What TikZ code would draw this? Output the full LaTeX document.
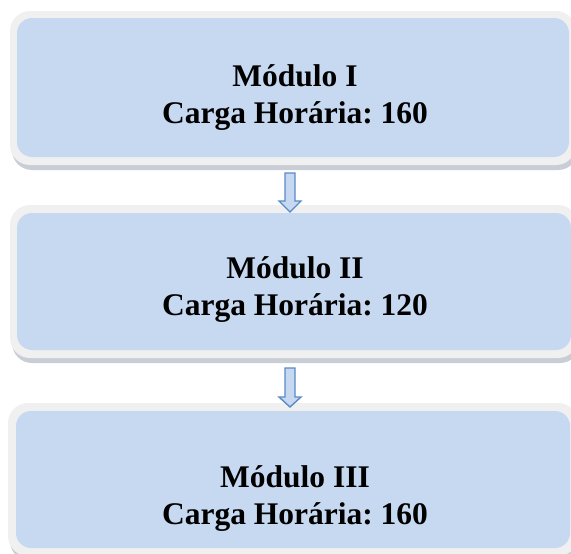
\documentclass[tikz,border=0pt]{standalone}
\usepackage{fontspec}
\setmainfont{Liberation Serif}
\usetikzlibrary{calc}
\definecolor{boxblue}{HTML}{C6D9F1}
\definecolor{rimgray}{HTML}{F0F0F0}
\definecolor{shadowgray}{HTML}{C9CED6}
\definecolor{arrowline}{HTML}{5A8AC8}
\tikzset{
  rim/.style={fill=rimgray, draw=none, rounded corners=20pt},
  shade/.style={fill=shadowgray, draw=none, rounded corners=20pt},
  inner/.style={fill=boxblue, draw=none, rounded corners=15pt},
  label/.style={font=\frenchspacing\bfseries\fontsize{31.5}{37}\selectfont, inner sep=0pt, anchor=base},
  blockarrow/.style={fill=boxblue, draw=arrowline, line width=1.4pt, line join=miter}
}
\begin{document}
\frenchspacing
\begin{tikzpicture}[x=1pt,y=-1pt]
\useasboundingbox (0,0) rectangle (571,554);
\clip (0,0) rectangle (571,554);
% box 1
\fill[shade] (12,16) rectangle (578,170);
\fill[rim] (10,11) rectangle (576,165);
\node[inner, minimum width=552pt, minimum height=139pt, inner sep=0pt] (b1) at (293,87.5) {};
\node[label] (m1) at (295,86) {Módulo I};
\node[label] (c1) at (295,123) {Carga Horária: 160};
% box 2
\fill[shade] (12,210) rectangle (580,363);
\fill[rim] (10,205) rectangle (578,358);
\node[inner, minimum width=554pt, minimum height=137pt, inner sep=0pt] (b2) at (294,281.5) {};
\node[label] (m2) at (295,278) {Módulo II};
\node[label] (c2) at (295,315) {Carga Horária: 120};
% box 3
\fill[shade] (10,408) rectangle (580,561);
\fill[rim] (8,403) rectangle (578,556);
\node[inner, minimum width=554pt, minimum height=137pt, inner sep=0pt] (b3) at (293,479.5) {};
\node[label] (m3) at (295,487) {Módulo III};
\node[label] (c3) at (295,524) {Carga Horária: 160};
% arrows
\coordinate (a1) at (290,173);
\draw[blockarrow] ($(a1)+(-5,0)$) -- ($(a1)+(5,0)$) -- ($(a1)+(5,28)$) -- ($(a1)+(11,28)$) -- ($(a1)+(0,39)$) -- ($(a1)+(-11,28)$) -- ($(a1)+(-5,28)$) -- cycle;
\coordinate (a2) at (290,368);
\draw[blockarrow] ($(a2)+(-5,0)$) -- ($(a2)+(5,0)$) -- ($(a2)+(5,29)$) -- ($(a2)+(11,29)$) -- ($(a2)+(0,39)$) -- ($(a2)+(-11,29)$) -- ($(a2)+(-5,29)$) -- cycle;
\end{tikzpicture}
\end{document}
